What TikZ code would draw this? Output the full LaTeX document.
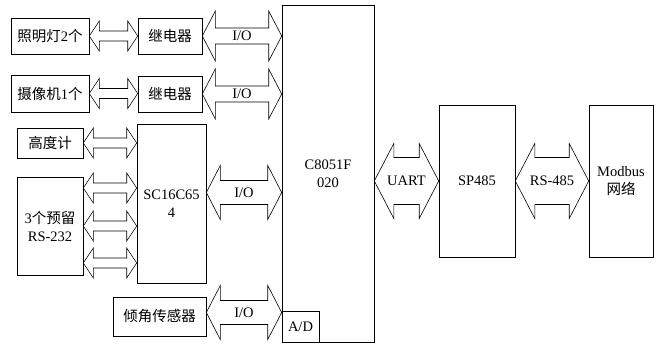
\documentclass[tikz,border=0pt]{standalone}
\usepackage{fontspec}
\setmainfont{Liberation Serif}
\newfontfamily\cjk{Noto Sans CJK SC}
\usetikzlibrary{calc}
\newcommand{\zh}[1]{{\cjk #1}}
% double-headed bus arrow: #1 left tip, #2 anchor giving the right x,
% #3 half shaft, #4 half head, #5 head length, #6 label
\newcommand{\busarrow}[6]{\draw[line join=miter] let \p1=(#1), \p2=(#2) in
  (\p1) -- (\x1+#5,\y1+#4) -- (\x1+#5,\y1+#3) -- (\x2-#5,\y1+#3) -- (\x2-#5,\y1+#4)
  -- (\x2,\y1) -- (\x2-#5,\y1-#4) -- (\x2-#5,\y1-#3) -- (\x1+#5,\y1-#3) -- (\x1+#5,\y1-#4) -- cycle
  ({(\x1+\x2)/2},\y1) node[inner sep=0] {#6};}

\begin{document}
\begin{tikzpicture}[x=1pt,y=-1pt,line width=.6pt,
  font=\fontsize{14.5}{18}\selectfont,
  box/.style={draw,inner sep=0,align=center}]
\useasboundingbox (0,0) rectangle (659,344);
% left side devices
\node[box,minimum width=78pt,minimum height=36pt] (lamp) at (50,36) {\zh{照明灯}2\zh{个}};
\node[box,minimum width=64pt,minimum height=36pt] (r1) at (170,36) {\zh{继电器}};
\node[box,minimum width=78pt,minimum height=37pt] (cam) at (50,93.5) {\zh{摄像机}1\zh{个}};
\node[box,minimum width=64pt,minimum height=36pt] (r2) at (170,94) {\zh{继电器}};
\node[box,minimum width=66pt,minimum height=30pt] (alt) at (50,143) {\zh{高度计}};
\node[box,minimum width=66pt,minimum height=98pt] (rs) at (50,226) {3\zh{个预留}\\RS-232};
\node[box,minimum width=69pt,minimum height=159pt] (sc) at (171.5,203.5) {SC16C65\\4};
\node[box,minimum width=93pt,minimum height=39pt] (tilt) at (159.5,316.5) {\zh{倾角传感器}};
% controller and bus side
\node[box,minimum width=92pt,minimum height=337pt] (mcu) at (328,173.5) {C8051F\\020};
\node[box,minimum width=37pt,minimum height=31pt] (ad) at (300.5,326.5) {A/D};
\node[box,minimum width=76pt,minimum height=152pt] (sp) at (477,181) {SP485};
\node[box,minimum width=64pt,minimum height=152pt] (mb) at (621,181) {Modbus\\\zh{网络}};
% connections
\busarrow{lamp.east}{r1.west}{5}{15}{10}{}
\busarrow{r1.east}{mcu.west}{8}{25}{13}{I/O}
\busarrow{cam.east}{r2.west}{5}{15}{10}{}
\busarrow{r2.east}{mcu.west}{8}{25}{13}{I/O}
\busarrow{alt.east}{sc.west}{5}{15}{10}{}
\busarrow{$(rs.east)+(0,-38)$}{sc.west}{5}{15}{10}{}
\busarrow{rs.east}{sc.west}{5}{15}{10}{}
\busarrow{$(rs.east)+(0,37)$}{sc.west}{5}{15}{10}{}
\busarrow{$(sc.east)+(0,-11)$}{mcu.west}{12}{27}{14}{I/O}
\busarrow{$(tilt.east)+(0,-4)$}{mcu.west}{12}{27}{14}{I/O}
\busarrow{mcu.east |- sp.west}{sp.west}{23.5}{37.5}{19.5}{UART}
\busarrow{sp.east}{mb.west}{23.5}{37.5}{19.5}{RS-485}
\end{tikzpicture}
\end{document}
